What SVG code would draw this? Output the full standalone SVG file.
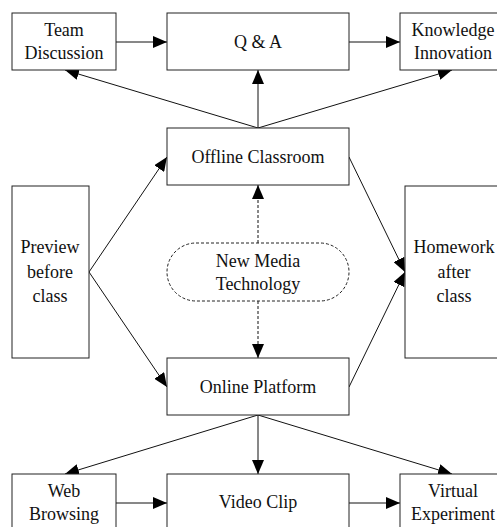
<svg xmlns="http://www.w3.org/2000/svg" width="497" height="527" viewBox="0 0 497 527">
<defs>
<style>
.box{fill:#fff;stroke:#222;stroke-width:1}
.dash{fill:#fff;stroke:#222;stroke-width:1;stroke-dasharray:3,2}
.t{font-family:"Liberation Serif","Times New Roman",serif;font-size:18px;fill:#111;text-anchor:middle}
.c{stroke:#111;stroke-width:1;fill:none;marker-end:url(#ah)}
.cd{stroke:#111;stroke-width:1;fill:none;stroke-dasharray:3,2;marker-end:url(#ah)}
</style>
<marker id="ah" markerUnits="userSpaceOnUse" markerWidth="14" markerHeight="12" refX="14" refY="6" orient="auto">
<path d="M0,0 L14,6 L0,12 Z" fill="#000"/>
</marker>
</defs>
<rect width="497" height="527" fill="#fff"/>
<g id="connectors">
<line class="c" x1="116" y1="42" x2="167" y2="42"/>
<line class="c" x1="349" y1="42" x2="400" y2="42"/>
<line class="c" x1="258" y1="128" x2="65" y2="70"/>
<line class="c" x1="258" y1="128" x2="258" y2="70"/>
<line class="c" x1="258" y1="128" x2="452" y2="70"/>
<line class="c" x1="89" y1="272" x2="167" y2="157"/>
<line class="c" x1="89" y1="272" x2="167" y2="387"/>
<line class="c" x1="349" y1="157" x2="405" y2="272"/>
<line class="c" x1="349" y1="387" x2="405" y2="272"/>
<line class="cd" x1="258" y1="243" x2="258" y2="185"/>
<line class="cd" x1="258" y1="301" x2="258" y2="358"/>
<line class="c" x1="258" y1="415" x2="65" y2="474"/>
<line class="c" x1="258" y1="415" x2="258" y2="474"/>
<line class="c" x1="258" y1="415" x2="452" y2="474"/>
<line class="c" x1="116" y1="503" x2="167" y2="503"/>
<line class="c" x1="349" y1="503" x2="400" y2="503"/>
</g>
<g id="team-discussion"><rect class="box" x="12" y="13" width="104" height="57"/><text class="t" x="64" y="36">Team</text><text class="t" x="64" y="59">Discussion</text></g>
<g id="qa"><rect class="box" x="167" y="13" width="182" height="57"/><text class="t" x="258" y="48">Q &amp; A</text></g>
<g id="knowledge-innovation"><rect class="box" x="400" y="13" width="110" height="57"/><text class="t" x="453" y="36">Knowledge</text><text class="t" x="453" y="59">Innovation</text></g>
<g id="offline-classroom"><rect class="box" x="167" y="128" width="182" height="57"/><text class="t" x="258" y="163">Offline Classroom</text></g>
<g id="preview"><rect class="box" x="12" y="186" width="77" height="172"/><text class="t" x="50" y="253">Preview</text><text class="t" x="50" y="278">before</text><text class="t" x="50" y="302">class</text></g>
<g id="new-media"><rect class="dash" x="167" y="243" width="182" height="58" rx="29" ry="29"/><text class="t" x="258" y="267">New Media</text><text class="t" x="258" y="290">Technology</text></g>
<g id="homework"><rect class="box" x="405" y="186" width="110" height="172"/><text class="t" x="454" y="253">Homework</text><text class="t" x="454" y="278">after</text><text class="t" x="454" y="302">class</text></g>
<g id="online-platform"><rect class="box" x="167" y="358" width="182" height="57"/><text class="t" x="258" y="393">Online Platform</text></g>
<g id="web-browsing"><rect class="box" x="12" y="474" width="104" height="70"/><text class="t" x="64" y="497">Web</text><text class="t" x="64" y="520">Browsing</text></g>
<g id="video-clip"><rect class="box" x="167" y="474" width="182" height="70"/><text class="t" x="258" y="508">Video Clip</text></g>
<g id="virtual-experiment"><rect class="box" x="400" y="474" width="110" height="70"/><text class="t" x="453" y="497">Virtual</text><text class="t" x="453" y="520">Experiment</text></g>
</svg>
